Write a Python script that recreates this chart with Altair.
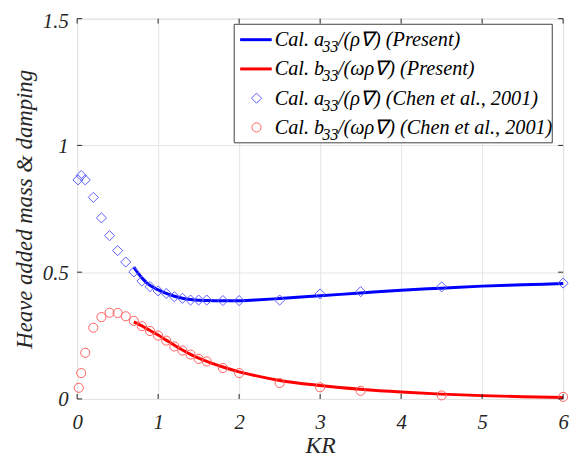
import altair as alt
import pandas as pd

# ---------------- data ----------------
# Present calculation (solid lines)
kr_present = [0.7, 0.75, 0.8, 0.85, 0.9, 1.0, 1.1, 1.2, 1.3, 1.4, 1.5, 1.6, 1.8, 2.0,
              2.2, 2.5, 3.0, 3.5, 4.0, 4.5, 5.0, 5.5, 6.0]
a33_present = [0.520, 0.497, 0.477, 0.461, 0.448, 0.430, 0.416, 0.405, 0.397, 0.392, 0.389,
               0.388, 0.387, 0.387, 0.390, 0.396, 0.407, 0.418, 0.429, 0.437, 0.445, 0.450, 0.455]
b33_present = [0.304, 0.296, 0.288, 0.279, 0.270, 0.252, 0.232, 0.212, 0.193, 0.176, 0.161,
               0.148, 0.126, 0.107, 0.092, 0.073, 0.053, 0.038, 0.027, 0.019, 0.013, 0.009, 0.006]

# Chen et al., 2001 (markers)
kr_chen_a = [0.01, 0.05, 0.1, 0.2, 0.3, 0.4, 0.5, 0.6, 0.7, 0.8, 0.9, 1.0, 1.1, 1.2, 1.3,
             1.4, 1.5, 1.6, 1.8, 2.0, 2.5, 3.0, 3.5, 4.5, 6.0]
a33_chen = [0.864, 0.881, 0.864, 0.795, 0.714, 0.644, 0.585, 0.540, 0.501, 0.465, 0.443,
            0.426, 0.416, 0.403, 0.397, 0.390, 0.390, 0.390, 0.388, 0.388, 0.390, 0.414,
            0.423, 0.442, 0.457]
kr_chen_b = [0.02, 0.05, 0.1, 0.2, 0.3, 0.4, 0.5, 0.6, 0.7, 0.8, 0.9, 1.0, 1.1, 1.2, 1.3,
             1.4, 1.5, 1.6, 1.8, 2.0, 2.5, 3.0, 3.5, 4.5, 6.0]
b33_chen = [0.044, 0.102, 0.182, 0.281, 0.323, 0.340, 0.339, 0.326, 0.308, 0.287, 0.268,
            0.250, 0.230, 0.207, 0.191, 0.175, 0.158, 0.148, 0.122, 0.102, 0.063, 0.046,
            0.032, 0.014, 0.008]

x_ticks = [0, 1, 2, 3, 4, 5, 6]
y_ticks = [0, 0.5, 1, 1.5]

legend_prefix = ["Cal. a", "Cal. b", "Cal. a", "Cal. b"]
legend_sub = ["33", "33", "33", "33"]
legend_suffix = ["/(ρ∇) (Present)", "/(ωρ∇) (Present)",
                 "/(ρ∇) (Chen et al., 2001)", "/(ωρ∇) (Chen et al., 2001)"]

# ---------------- layout / style ----------------
W, H = 492, 385
FONT = "Liberation Serif, 'Times New Roman', Times, serif"
AX = "#262626"
BLUE, RED = "#0000ff", "#ff0000"
BLUE_M, RED_M = "#5c5cff", "#ff6060"

xscale = alt.Scale(domain=[0, 6], nice=False, zero=False)
yscale = alt.Scale(domain=[0, 1.5], nice=False, zero=False)

xaxis = alt.Axis(values=x_ticks, grid=True, gridColor="#e4e4e4", ticks=False, domain=False,
                 labelFont=FONT, labelFontStyle="italic", labelFontSize=21, labelColor=AX,
                 labelPadding=13, labelFlush=False, format="~g",
                 title="KR", titleFont=FONT, titleFontStyle="italic", titleFontSize=24,
                 titleFontWeight="normal", titleColor=AX, titlePadding=1)
yaxis = alt.Axis(values=y_ticks, grid=True, gridColor="#e4e4e4", ticks=False, domain=False,
                 labelFont=FONT, labelFontStyle="italic", labelFontSize=21, labelColor=AX,
                 labelPadding=9, labelFlush=False,
                 labelOffset={"condition": {"test": "datum.value === 1.5", "value": 3}, "value": 1},
                 format="~g",
                 title="Heave added mass & damping", titleFont=FONT, titleFontStyle="italic",
                 titleFontSize=23, titleFontWeight="normal", titleColor=AX, titlePadding=6)

X = alt.X("KR:Q", scale=xscale, axis=xaxis)
Y = alt.Y("val:Q", scale=yscale, axis=yaxis)

df_a = pd.DataFrame({"KR": kr_present, "val": a33_present})
df_b = pd.DataFrame({"KR": kr_present, "val": b33_present})
df_ca = pd.DataFrame({"KR": kr_chen_a, "val": a33_chen})
df_cb = pd.DataFrame({"KR": kr_chen_b, "val": b33_chen})

line_a = alt.Chart(df_a).mark_line(color=BLUE, strokeWidth=3, interpolate="monotone").encode(x=X, y=Y)
line_b = alt.Chart(df_b).mark_line(color=RED, strokeWidth=3, interpolate="monotone").encode(x=X, y=Y)
pts_a = alt.Chart(df_ca).mark_point(shape="diamond", filled=False, size=105, strokeWidth=1,
                                    color=BLUE_M, opacity=1).encode(x=X, y=Y)
pts_b = alt.Chart(df_cb).mark_point(shape="circle", filled=False, size=85, strokeWidth=1,
                                    color=RED_M, opacity=1).encode(x=X, y=Y)

# inward ticks (MATLAB style)
dxt = pd.DataFrame({"KR": x_ticks})
dyt = pd.DataFrame({"val": y_ticks})
tick_b = alt.Chart(dxt).mark_rule(color=AX, strokeWidth=1).encode(x=X, y=alt.value(H), y2=alt.value(H - 5))
tick_t = alt.Chart(dxt).mark_rule(color=AX, strokeWidth=1).encode(x=X, y=alt.value(0), y2=alt.value(5))
tick_l = alt.Chart(dyt).mark_rule(color=AX, strokeWidth=1).encode(y=Y, x=alt.value(0), x2=alt.value(5))
tick_r = alt.Chart(dyt).mark_rule(color=AX, strokeWidth=1).encode(y=Y, x=alt.value(W), x2=alt.value(W - 5))

# legend (drawn manually to keep the subscripts)
one = pd.DataFrame({"k": [0]})
LX0, LX1, LY0, LY1 = 159, 481, 5.7, 125.7
leg_box = alt.Chart(one).mark_rect(fill="white", stroke="#404040", strokeWidth=1).encode(
    x=alt.value(LX0), x2=alt.value(LX1), y=alt.value(LY0), y2=alt.value(LY1))

row_y = [21.3, 50.9, 80.5, 110.1]
leg_layers = [leg_box]
for i in range(4):
    ry = row_y[i]
    if i < 2:
        leg_layers.append(alt.Chart(one).mark_rule(color=[BLUE, RED][i], strokeWidth=3).encode(
            x=alt.value(165), x2=alt.value(197), y=alt.value(ry)))
    else:
        leg_layers.append(alt.Chart(one).mark_point(
            shape=["diamond", "circle"][i - 2], filled=False, size=[105, 85][i - 2], strokeWidth=1,
            color=[BLUE_M, RED_M][i - 2], opacity=1).encode(x=alt.value(181.6), y=alt.value(ry)))
    tx = dict(font=FONT, fontStyle="italic", color="black", align="left", baseline="alphabetic")
    leg_layers.append(alt.Chart(one).mark_text(text=legend_prefix[i], fontSize=20.5, **tx).encode(
        x=alt.value(200), y=alt.value(ry + 6.5)))
    leg_layers.append(alt.Chart(one).mark_text(text=legend_sub[i], fontSize=16, **tx).encode(
        x=alt.value(248.5), y=alt.value(ry + 12.5)))
    leg_layers.append(alt.Chart(one).mark_text(text=legend_suffix[i], fontSize=20.5, **tx).encode(
        x=alt.value(264), y=alt.value(ry + 6.5)))

chart = alt.layer(
    line_a, line_b, pts_a, pts_b, tick_b, tick_t, tick_l, tick_r, *leg_layers
).properties(
    width=W, height=H, autosize="none",
    padding={"left": 70, "top": 8, "right": 10, "bottom": 56},
).configure_view(stroke="#404040", strokeWidth=1).configure(background="white")

chart.save("out.html", embed_options={"renderer": "svg", "actions": False})
